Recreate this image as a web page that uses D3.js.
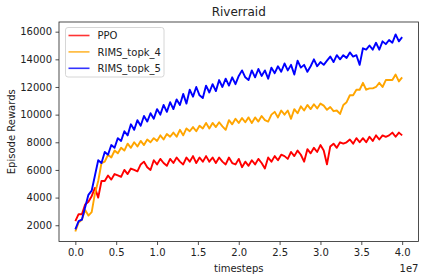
<!DOCTYPE html>
<html><head><meta charset="utf-8">
<script src="https://cdn.jsdelivr.net/npm/d3@7"></script>
<style>body{margin:0;background:#fff}svg{display:block}text{font-family:"DejaVu Sans",sans-serif}</style>
</head><body>
<script>
// timesteps in units of 1e7
const timesteps = [0.00,0.04,0.08,0.12,0.16,0.20,0.24,0.28,0.32,0.36,0.40,0.44,0.48,0.52,0.56,0.60,0.64,0.68,0.72,0.76,
0.80,0.84,0.88,0.92,0.96,1.00,1.04,1.08,1.12,1.16,1.20,1.24,1.28,1.32,1.36,1.40,1.44,1.48,1.52,1.56,
1.60,1.64,1.68,1.72,1.76,1.80,1.84,1.88,1.92,1.96,2.00,2.04,2.08,2.12,2.16,2.20,2.24,2.28,2.32,2.36,
2.40,2.44,2.48,2.52,2.56,2.60,2.64,2.68,2.72,2.76,2.80,2.84,2.88,2.92,2.96,3.00,3.04,3.08,3.12,3.16,
3.20,3.24,3.28,3.32,3.36,3.40,3.44,3.48,3.52,3.56,3.60,3.64,3.68,3.72,3.76,3.80,3.84,3.88,3.92,3.96,4.00];

const ppo = [2300,2800,2800,3500,3700,4100,4700,4000,5200,5200,5600,5300,5700,5600,5500,6000,5700,6100,6000,5900,
6400,6600,6200,6000,6700,6400,6800,6500,6300,6800,6500,6900,6600,6400,6900,6600,7000,6500,6900,6600,
7000,6600,6900,6500,6900,6600,6400,6900,6500,6400,6800,6200,6600,6300,6700,6400,6800,6500,6100,6900,
6600,7000,6700,7100,7000,6800,7300,7000,7400,7100,6600,7500,7200,7600,7300,7800,7400,6400,7700,7900,
7600,8000,7900,8000,8200,7900,8300,8000,8300,8000,8400,8100,8500,8200,8500,8400,8500,8700,8400,8700,8500];

const rimsTopk4 = [1550,2200,2400,3100,2700,2950,4300,5200,6500,6600,7100,6900,7400,7200,7600,7400,7900,7600,8000,7700,
8100,7800,8200,8000,8300,8100,8500,8200,8600,8400,8700,8400,8900,8500,9000,8800,9100,8800,9200,9000,
9400,9000,9400,9100,9450,9150,8900,9600,9300,9700,9400,9750,9450,9800,9400,9800,9500,9900,9600,9500,
10000,10200,9800,10300,10000,10300,9700,10400,10100,10600,10300,10700,10400,10750,10450,10800,10650,10350,10550,10250,
10300,10050,10700,10900,11400,11400,11800,11800,12300,11800,11900,11900,12000,12300,12000,12500,12500,12500,12900,12400,12700];

const rimsTopk5 = [1700,2300,2400,3300,4200,4500,5600,6700,6500,7300,7100,7800,7600,8300,8100,8800,8500,9300,8900,9600,
9200,9900,9500,10100,9700,10400,10000,10700,10200,10900,10400,11100,10700,11500,10800,11800,11300,12000,11400,11200,
12100,11600,12200,11700,12500,12000,12600,12100,12700,12200,12800,13200,12700,12500,13200,12700,13300,12800,13200,12600,
13400,13000,13500,13100,13700,13200,13600,12900,13900,13400,13600,13100,13500,14000,13500,13800,13600,13900,14200,13800,
14300,14000,14300,14100,14500,14200,14300,13600,14800,14700,15000,14700,15200,14700,15300,15100,15400,15200,15800,15300,15600];

const seriesNames = ["PPO", "RIMS_topk_4", "RIMS_topk_5"];
const seriesColors = ["#ff0000", "#ffa500", "#0000ff"];
const xTicks = [0.0,0.5,1.0,1.5,2.0,2.5,3.0,3.5,4.0];
const yTicks = [2000,4000,6000,8000,10000,12000,14000,16000];

const W = 424, H = 280;
const L = 59, R = 418.5, T = 22, B = 241.5;

const svg = d3.select("body").append("svg").attr("width", W).attr("height", H);

const x = d3.scaleLinear().domain([-0.2, 4.2]).range([L, R]);
const y = d3.scaleLinear().domain([824, 16700]).range([B, T]);

const series = [ppo, rimsTopk4, rimsTopk5];
const line = d3.line().x((d, i) => x(timesteps[i])).y(d => y(d));

const plot = svg.append("g");
plot.append("defs").append("clipPath").attr("id","clip").append("rect")
  .attr("x", L).attr("y", T).attr("width", R - L).attr("height", B - T);
const lines = plot.append("g").attr("clip-path","url(#clip)");
series.forEach((s, k) => {
  lines.append("path").datum(s).attr("d", line)
    .attr("fill","none").attr("stroke", seriesColors[k])
    .attr("stroke-width", 1.9).attr("stroke-linejoin","round");
});

// axes
const xa = svg.append("g").attr("transform", `translate(0,${B})`)
  .call(d3.axisBottom(x).tickValues(xTicks).tickFormat(d3.format(".1f")).tickSize(3.5).tickPadding(3.5));
const ya = svg.append("g").attr("transform", `translate(${L},0)`)
  .call(d3.axisLeft(y).tickValues(yTicks).tickFormat(d => d).tickSize(3.5).tickPadding(3.5));
[xa, ya].forEach(a => {
  a.select(".domain").remove();
  a.selectAll("line").attr("stroke","#222").attr("stroke-width",0.8);
  a.selectAll("text").attr("font-size","10px").attr("fill","#222")
   .attr("font-family","DejaVu Sans, sans-serif");
});

// frame
svg.append("rect").attr("x", L).attr("y", T).attr("width", R - L).attr("height", B - T)
  .attr("fill","none").attr("stroke","#222").attr("stroke-width",0.8);

// title & labels
svg.append("text").attr("x", (L + R) / 2).attr("y", 16).attr("text-anchor","middle")
  .attr("font-size","12px").attr("fill","#222").text("Riverraid");
svg.append("text").attr("x", (L + R) / 2).attr("y", 272).attr("text-anchor","middle")
  .attr("font-size","10px").attr("fill","#222").text("timesteps");
svg.append("text").attr("transform", `translate(15,${(T + B) / 2}) rotate(-90)`)
  .attr("text-anchor","middle").attr("font-size","10px").attr("fill","#222").text("Episode Rewards");
svg.append("text").attr("x", R).attr("y", 272).attr("text-anchor","end")
  .attr("font-size","10px").attr("fill","#222").text("1e7");

// legend
const lg = svg.append("g");
lg.append("rect").attr("x", 65.5).attr("y", 27.5).attr("width", 98.5).attr("height", 49.5)
  .attr("rx", 2.5).attr("fill","#fff").attr("fill-opacity",0.8).attr("stroke","#ccc").attr("stroke-width",0.8);
seriesNames.forEach((n, k) => {
  const yy = 35.5 + k * 16.4;
  lg.append("line").attr("x1", 68.5).attr("x2", 89.5).attr("y1", yy).attr("y2", yy)
    .attr("stroke", seriesColors[k]).attr("stroke-width", 1.6).attr("stroke-opacity", 0.8);
  lg.append("text").attr("x", 97.5).attr("y", yy + 3.6).attr("font-size","10px").attr("fill","#222").text(n);
});
</script>
</body></html>
